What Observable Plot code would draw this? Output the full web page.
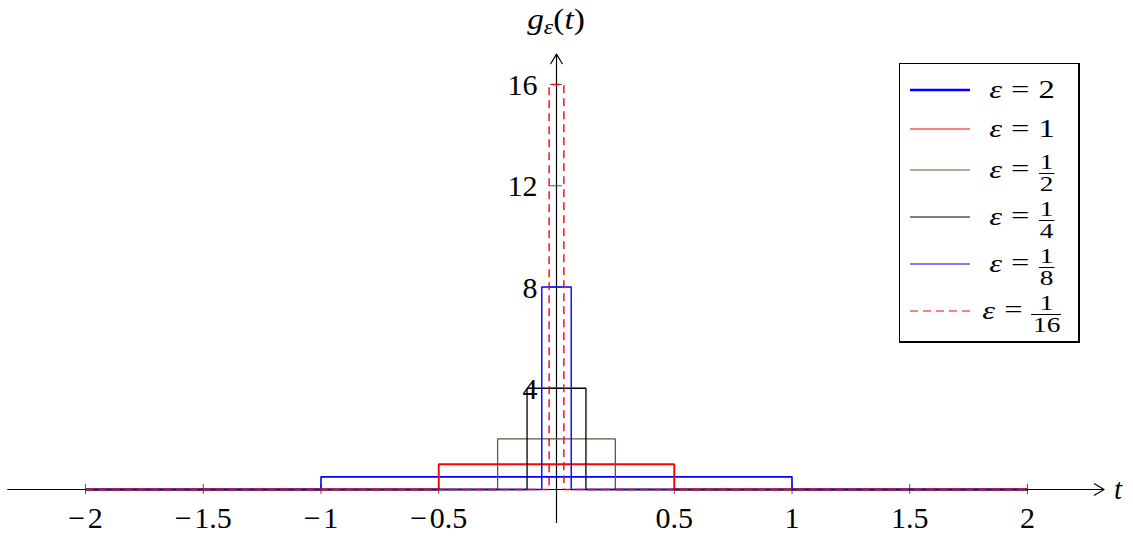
<!DOCTYPE html>
<html><head><meta charset="utf-8">
<script src="https://cdn.jsdelivr.net/npm/d3@7"></script>
<script src="https://cdn.jsdelivr.net/npm/@observablehq/plot@0.6"></script>
<style>
html,body{margin:0;padding:0;background:#fff;}
#wrap{position:relative;width:1133px;height:536px;font-family:"Liberation Serif","Times New Roman",serif;color:#000;}
#ylab{position:absolute;left:556px;top:5px;transform:translateX(-50%) scaleX(1.15);font-size:29px;white-space:nowrap;line-height:1;}
#ylab sub{font-size:0.72em;vertical-align:-0.22em;}
#legend{position:absolute;left:899px;top:63px;width:178px;height:271px;border:1.5px solid #000;border-bottom-width:2.5px;border-right-width:2.5px;padding-top:6px;background:#fff;}
.row{display:flex;align-items:center;height:39px;}
.row.frac{height:47px;}
.row svg{margin-left:10px;flex:none;}
.txt{width:90px;margin-left:7px;text-align:center;font-size:25px;transform:scaleX(1.3);white-space:nowrap;line-height:1;}
.eq{margin:0 0.28em;}
.fr{display:inline-flex;flex-direction:column;align-items:center;font-size:21px;line-height:0.95;vertical-align:middle;position:relative;top:0.1em;}
.fr .den{border-top:1.2px solid #000;padding:1px 1px 0 1px;}
</style>
</head><body>
<div id="wrap"></div>
<script>
// ---- data ----
const epsLabels = ["2", "1", "1/2", "1/4", "1/8", "1/16"];
const halfWidths = [1, 0.5, 0.25, 0.125, 0.0625, 0.03125];
const heights = [0.5, 1, 2, 4, 8, 16];
const tDomain = [-2, 2];
const gDomain = [0, 16];
const xTicks = [-2, -1.5, -1, -0.5, 0.5, 1, 1.5, 2];
const xTickLabels = ["−\u200A2", "−\u200A1.5", "−\u200A1", "−\u200A0.5", "0.5", "1", "1.5", "2"];
const yTicks = [4, 8, 12, 16];
const yTickLabels = ["4", "8", "12", "16"];
const xAxisExtent = [-2.33, 2.325];
const yAxisExtent = [-1.3, 17.2];
// ---- styles ----
const colors = ["#0000ff", "#ff0000", "#6b5238", "#000000", "#0000ff", "#ff0000"];
const lineWidths = [1.6, 1.9, 1.3, 1.3, 1.4, 1.4];
const legendWidths = [2.6, 1.2, 1.2, 1.2, 1.2, 1.2];
const dashes = [null, null, null, null, null, "8,5"];

const FONT = '"Liberation Serif","Times New Roman",serif';

const series = epsLabels.map((lab, i) => {
  const hw = halfWidths[i], h = heights[i];
  return [
    {t: tDomain[0], g: 0}, {t: -hw, g: 0}, {t: -hw, g: h},
    {t: hw, g: h}, {t: hw, g: 0}, {t: tDomain[1], g: 0}
  ];
});

const lineMarks = series.map((rows, i) => Plot.line(rows, {
  x: "t", y: "g", stroke: colors[i], strokeWidth: lineWidths[i],
  strokeDasharray: dashes[i] || undefined, strokeLinejoin: "miter", strokeLinecap: "butt"
}));

const chart = Plot.plot({
  width: 1133, height: 536,
  marginLeft: 85, marginRight: 106, marginTop: 84, marginBottom: 47,
  style: {fontFamily: FONT, background: "#fff", overflow: "visible"},
  x: {domain: tDomain, axis: null},
  y: {domain: gDomain, axis: null},
  marks: [
    Plot.arrow([{x1: xAxisExtent[0], x2: xAxisExtent[1], y: 0}], {x1: "x1", x2: "x2", y1: "y", y2: "y", stroke: "#000", strokeWidth: 1.2, headLength: 14, headAngle: 62}),
    Plot.arrow([{y1: yAxisExtent[0], y2: yAxisExtent[1], x: 0}], {y1: "y1", y2: "y2", x1: "x", x2: "x", stroke: "#000", strokeWidth: 1.2, headLength: 14, headAngle: 62}),
    Plot.ruleX(xTicks, {x: d => d, y1: 0, y2: 0, insetTop: -5, insetBottom: -5, stroke: "#555", strokeWidth: 1}),
    Plot.ruleY(yTicks, {y: d => d, x1: 0, x2: 0, insetLeft: -6, insetRight: -6, stroke: "#555", strokeWidth: 1}),
    ...lineMarks,
    Plot.text(xTicks, {x: d => d, y: 0, dy: 29, text: (d, i) => xTickLabels[i], fontSize: 30, fontFamily: FONT, fill: "#000", textAnchor: "middle"}),
    Plot.text(yTicks, {x: 0, y: d => d, dx: -19, dy: 1, text: (d, i) => yTickLabels[i], fontSize: 30, fontFamily: FONT, fill: "#000", textAnchor: "end"}),
    Plot.text(["t"], {x: xAxisExtent[1], y: 0, dx: 14, dy: 0, text: d => d, fontSize: 29, fontStyle: "italic", fontFamily: FONT, fill: "#000"})
  ]
});

const wrap = document.getElementById("wrap");
wrap.appendChild(chart);

// y-axis label
const ylab = document.createElement("div");
ylab.id = "ylab";
ylab.innerHTML = '<i>g</i><sub><i>ε</i></sub>(<i>t</i>)';
wrap.appendChild(ylab);

// legend
const legend = document.createElement("div");
legend.id = "legend";
epsLabels.forEach((lab, i) => {
  const row = document.createElement("div");
  const isFrac = lab.includes("/");
  row.className = "row" + (isFrac ? " frac" : "");
  const dash = dashes[i] ? ` stroke-dasharray="${dashes[i]}"` : "";
  let valHtml;
  if (isFrac) {
    const [n, d] = lab.split("/");
    valHtml = `<span class="fr"><span>${n}</span><span class="den">${d}</span></span>`;
  } else valHtml = lab;
  row.innerHTML = `<svg width="60" height="10"><line x1="0" x2="60" y1="${isFrac ? 3 : 5}" y2="${isFrac ? 3 : 5}" stroke="${colors[i]}" stroke-width="${legendWidths[i]}"${dash}/></svg>` +
    `<div class="txt"><i>ε</i><span class="eq">=</span>${valHtml}</div>`;
  legend.appendChild(row);
});
wrap.appendChild(legend);
</script>
</body></html>
